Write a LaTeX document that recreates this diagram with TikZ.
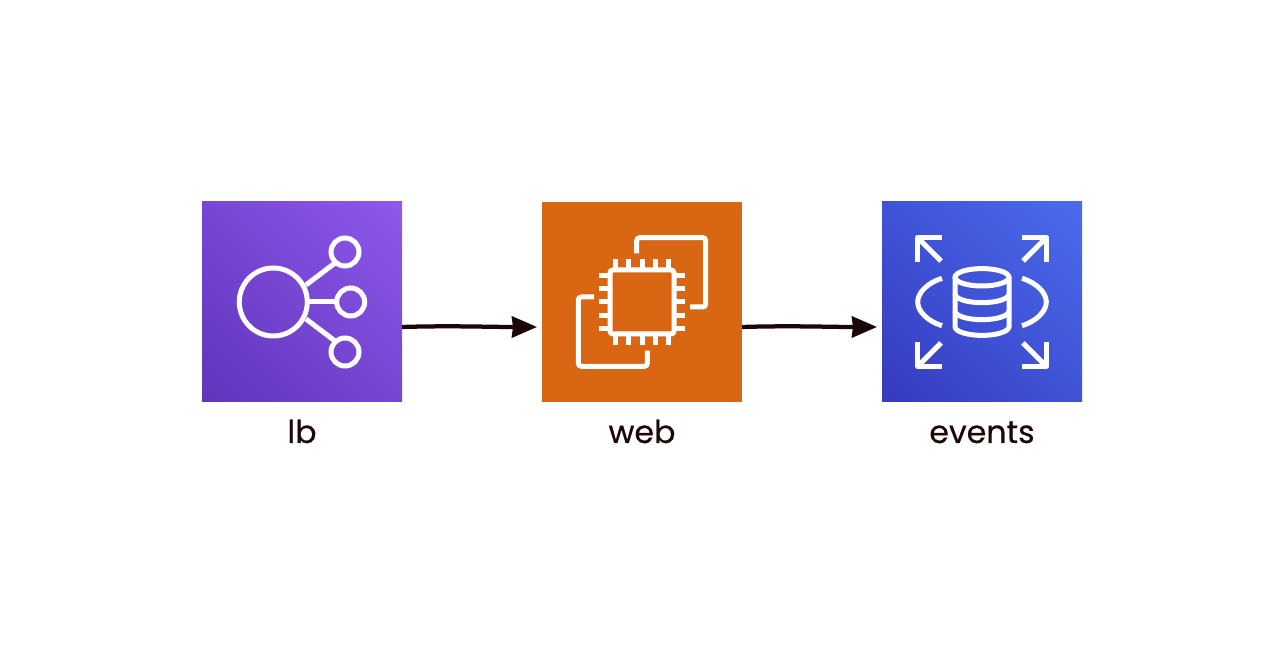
\documentclass[tikz,border=0pt]{standalone}
\usepackage{xcolor}
\usepackage{fontspec}
\setmainfont{Poppins}[FakeBold=0.5]
\usetikzlibrary{positioning,arrows.meta}
\definecolor{inkdark}{HTML}{1B0608}
\definecolor{lbdark}{HTML}{5A30B5}
\definecolor{lblight}{HTML}{945DF2}
\definecolor{webfill}{HTML}{D86613}
\definecolor{dbdark}{HTML}{3334B9}
\definecolor{dblight}{HTML}{4D72F3}
\pgfdeclareverticalshading{lbshade}{100bp}{color(0bp)=(lbdark); color(5.4bp)=(lbdark); color(94.6bp)=(lblight); color(100bp)=(lblight)}
\pgfdeclareverticalshading{dbshade}{100bp}{color(0bp)=(dbdark); color(5.4bp)=(dbdark); color(94.6bp)=(dblight); color(100bp)=(dblight)}
\tikzset{
  iconbox/.style={minimum size=4cm,inner sep=0pt,outer sep=0pt},
  iconshade/.style={iconbox,shading=#1,shading angle=-45},
  iconline/.style={draw=white,line width=1mm,x=.2mm,y=-.2mm},
  caption/.style={font=\fontsize{18}{20}\selectfont,color=inkdark,inner sep=0pt,outer sep=0pt,text height=4mm,text depth=0pt},
  flowline/.style={draw=inkdark,line width=.85mm,-{Stealth[length=5mm,width=4.2mm,inset=.2mm]}}
}

\begin{document}
\begin{tikzpicture}
  \useasboundingbox (0,0) rectangle (25.68,13.08);

  \node (lb) [iconshade=lbshade] at (6.04,7.04) {};
  \node (web) [iconbox,fill=webfill,right=2.8cm of lb] {};
  \node (events) [iconshade=dbshade,right=2.8cm of web] {};

  \node (lbtext) [caption,below=4.2mm of lb] {lb};
  \node (webtext) [caption,below=4.2mm of web] {web};
  \node (eventstext) [caption,below=4.2mm of events] {events};

  \draw[flowline] ([yshift=-5mm]lb.east) .. controls +(1,.03) and +(-1,0) .. ([xshift=-1mm,yshift=-5mm]web.west);
  \draw[flowline] ([yshift=-5mm]web.east) .. controls +(1,.03) and +(-1,0) .. ([xshift=-1mm,yshift=-5mm]events.west);

  % load balancer
  \begin{scope}[shift={(lb.center)},iconline]
    \draw (-28.7,0) circle[radius=34];
    \draw (43,-50) circle[radius=14];
    \draw (48.7,0) circle[radius=14];
    \draw (43,50) circle[radius=14];
    \draw (5,0) -- (34.7,0);
    \draw (4,-17) -- (33,-39);
    \draw (4,17) -- (33,39);
  \end{scope}

  % instance
  \begin{scope}[shift={(web.center)},iconline]
    \draw[rounded corners=.6mm] (-32,-32) rectangle (32,32);
    \foreach \p in {-26.7,-13.3,0,13.3,26.7} {
      \draw (\p,-42.7) -- (\p,-32);
      \draw (\p,32) -- (\p,42.7);
      \draw (-42.7,\p) -- (-32,\p);
      \draw (32,\p) -- (42.7,\p);
    }
    \draw[rounded corners=.6mm] (-5.3,-48.7) -- (-5.3,-64.3) -- (63.7,-64.3) -- (63.7,5) -- (48,5);
    \draw[rounded corners=.6mm] (-48,-5) -- (-63.7,-5) -- (-63.7,64.3) -- (5.3,64.3) -- (5.3,48.7);
  \end{scope}

  % database
  \begin{scope}[shift={(events.center)},iconline]
    \foreach \sx/\sy in {-1/-1,1/-1,-1/1,1/1} {
      \draw[line join=round] (\sx*40,\sy*64.3) -- (\sx*64.3,\sy*64.3) -- (\sx*64.3,\sy*40);
      \draw (\sx*64.3,\sy*64.3) -- (\sx*41,\sy*41);
    }
    \draw (-40,-23.7) .. controls (-55,-19) and (-64.3,-9) .. (-64.3,0) .. controls (-64.3,9) and (-55,19) .. (-40,23.7);
    \draw (40,-23.7) .. controls (55,-19) and (64.3,-9) .. (64.3,0) .. controls (64.3,9) and (55,19) .. (40,23.7);
    \draw (0,-24.7) ellipse[x radius=27,y radius=8.7];
    \draw (-27,-24.7) -- (-27,24.7) arc[start angle=180,end angle=0,x radius=27,y radius=8.7] -- (27,-24.7);
    \draw (-27,-8) arc[start angle=180,end angle=0,x radius=27,y radius=8.7];
    \draw (-27,9) arc[start angle=180,end angle=0,x radius=27,y radius=8.7];
  \end{scope}
\end{tikzpicture}
\end{document}
